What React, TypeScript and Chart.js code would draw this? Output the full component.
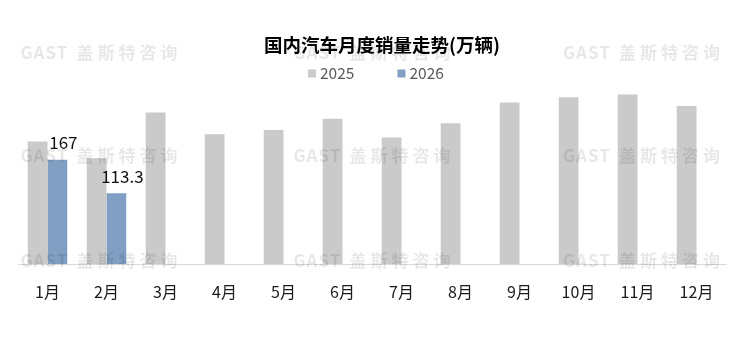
import React, { useEffect, useRef } from "react";
import { Chart, registerables } from "chart.js";

Chart.register(...registerables);

const months = ["1月", "2月", "3月", "4月", "5月", "6月", "7月", "8月", "9月", "10月", "11月", "12月"];
const sales2025 = [196.0, 169.4, 242.3, 207.8, 214.7, 232.3, 202.4, 225.4, 258.3, 266.9, 271.1, 253.0];
const sales2026: (number | null)[] = [167, 113.3, null, null, null, null, null, null, null, null, null, null];
const seriesNames = ["2025", "2026"];
const titleText = "国内汽车月度销量走势(万辆)";
const watermarkLatin = "GAST";
const watermarkCjk = "盖斯特咨询";

const FONT = '"Noto Sans CJK SC", "Noto Sans", sans-serif';
const GRAY = "#cacaca";
const BLUE = "#819fc3";

const decorPlugin = {
  id: "decor",
  afterDatasetsDraw(chart: any) {
    const ctx = chart.ctx as CanvasRenderingContext2D;
    ctx.save();
    // watermark
    ctx.fillStyle = "rgba(0,0,0,0.095)";
    ctx.textBaseline = "middle";
    ctx.textAlign = "left";
    const cols = [20.5, 293.5, 563];
    const rows = [53, 156, 261];
    for (const y of rows) {
      for (const x of cols) {
        ctx.font = `bold 17px ${FONT}`;
        (ctx as any).letterSpacing = "1px";
        ctx.fillText(watermarkLatin, x, y);
        (ctx as any).letterSpacing = "4px";
        ctx.fillText(watermarkCjk, x + 56, y);
      }
    }
    (ctx as any).letterSpacing = "0px";
    // data labels for 2026
    const meta = chart.getDatasetMeta(1);
    ctx.fillStyle = "#111111";
    ctx.font = `17px ${FONT}`;
    ctx.textAlign = "center";
    ctx.textBaseline = "alphabetic";
    meta.data.forEach((bar: any, i: number) => {
      const v = chart.data.datasets[1].data[i];
      if (v == null) return;
      ctx.fillText(String(v), bar.x + 6, bar.y - 10.5);
    });
    ctx.restore();
  },
  afterDraw(chart: any) {
    const ctx = chart.ctx as CanvasRenderingContext2D;
    ctx.save();
    // title
    ctx.fillStyle = "#000000";
    ctx.font = `bold 18.5px ${FONT}`;
    ctx.textAlign = "center";
    ctx.textBaseline = "middle";
    ctx.fillText(titleText, 382, 45);
    // legend
    const colors = [GRAY, BLUE];
    const boxX = [308, 397.5];
    ctx.font = `15.5px ${FONT}`;
    ctx.textAlign = "left";
    seriesNames.forEach((name, i) => {
      ctx.fillStyle = colors[i];
      ctx.fillRect(boxX[i], 69.5, 8, 8);
      ctx.fillStyle = "#595959";
      ctx.fillText(name, boxX[i] + 12, 73.5);
    });
    ctx.restore();
  },
};

export default function App() {
  const ref = useRef<HTMLCanvasElement>(null);
  useEffect(() => {
    document.body.style.margin = "0";
    const chart = new Chart(ref.current as HTMLCanvasElement, {
      type: "bar",
      data: {
        labels: months,
        datasets: [
          { label: seriesNames[0], data: sales2025, backgroundColor: GRAY, categoryPercentage: 0.67, barPercentage: 1 },
          { label: seriesNames[1], data: sales2026 as any, backgroundColor: BLUE, categoryPercentage: 0.67, barPercentage: 1 },
        ],
      },
      options: {
        responsive: false,
        animation: false,
        layout: { padding: { top: 89, bottom: 19.5, left: 18, right: 24 } },
        plugins: { legend: { display: false }, title: { display: false }, tooltip: { enabled: false } },
        scales: {
          x: {
            grid: { display: false, drawTicks: false },
            border: { display: true, color: "#d9d9d9", width: 1 },
            ticks: { font: { size: 16, family: FONT }, color: "#1a1a1a", padding: 18 },
          },
          y: { display: false, min: 0, max: 280 },
        },
      },
      plugins: [decorPlugin],
    });
    return () => chart.destroy();
  }, []);
  return (
    <div style={{ width: 750, height: 339, background: "#ffffff" }}>
      <canvas ref={ref} width={750} height={339} />
    </div>
  );
}
